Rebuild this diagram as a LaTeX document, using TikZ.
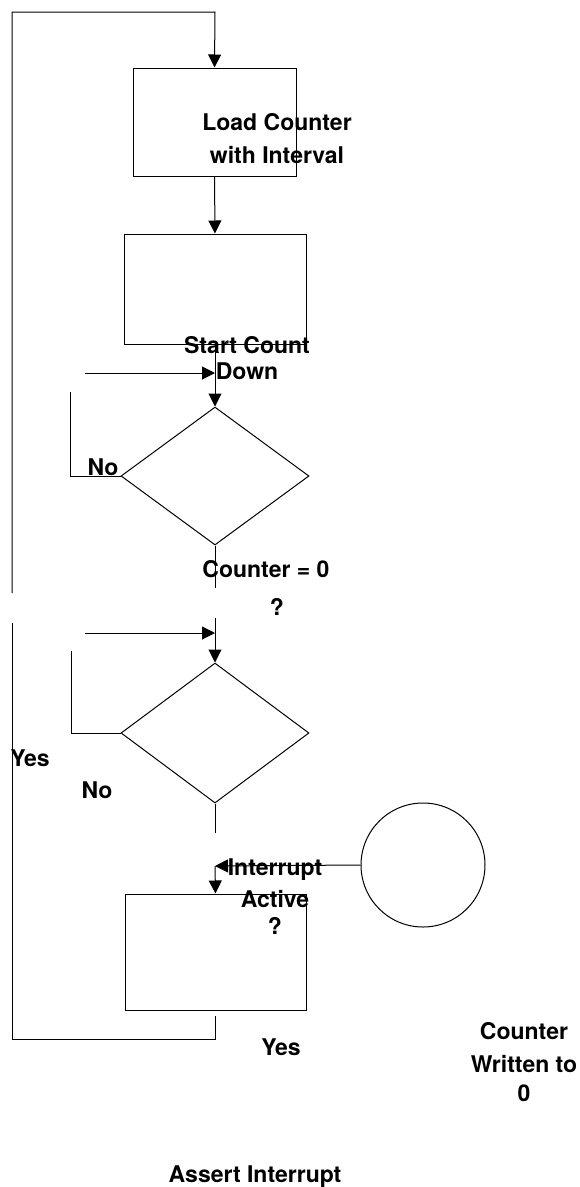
\documentclass[tikz,border=0pt]{standalone}
\usepackage{fontspec}
\setmainfont{TeX Gyre Heros}
\usetikzlibrary{shapes.geometric,arrows.meta}

\begin{document}
\begin{tikzpicture}[x=1pt,y=-1pt,line width=1pt,
        box/.style={draw, rectangle, inner sep=0pt},
        decision/.style={draw, diamond, inner sep=0pt},
        lbl/.style={font=\bfseries\fontsize{23}{33}\selectfont, align=center, inner sep=0pt, anchor=north},
        arr/.style={-{Triangle[length=13pt,width=13pt]}}]

        \useasboundingbox (0,0) rectangle (579,1187);

        % Define the blocks
        \node[box, minimum width=163, minimum height=108] (load) at (214.5,122) {};
        \node[box, minimum width=182, minimum height=110] (count) at (215,289) {};
        \node[decision, minimum width=188, minimum height=138] (zero) at (215,476) {};
        \node[decision, minimum width=188, minimum height=140] (active) at (215,733) {};
        \node[box, minimum width=181, minimum height=116] (assert) at (215.5,952) {};
        \node[draw, circle, minimum size=124, inner sep=0pt] (written) at (423,865) {};

        % Define free ends of the connectors
        \coordinate (topL) at (12,12);
        \coordinate (topR) at (215,12);
        \coordinate (gapT) at (12,593);
        \coordinate (gapB) at (12,623);
        \coordinate (botL) at (12,1039);
        \coordinate (fb) at (215,1016);
        \coordinate (zeroEnd) at (215,588);
        \coordinate (activeIn) at (215,618);
        \coordinate (activeEnd) at (215,833);
        \coordinate (irq) at (215,866);
        \coordinate (noA) at (70,392);
        \coordinate (noB) at (71,651);
        \foreach \y/\name in {373/inA, 633/inB}
        {
            \coordinate (\name) at (85,\y);
            \coordinate (\name tip) at (215,\y);
        }

        % Draw the main flow
        \draw[arr] (gapT) -- (topL) -- (topR) -- (load.north);
        \draw[arr] (load.south) -- (count.north);
        \draw[arr] (count.south) -- (zero.north);
        \draw (zero.south) -- (zeroEnd);
        \draw[arr] (activeIn) -- (active.north);
        \draw (active.south) -- (activeEnd);
        \draw[arr] (written.west) -- (irq);
        \draw[arr] (irq) -- (assert.north);
        \draw (fb) |- (botL) -- (gapB);

        % Draw the side branches
        \draw[arr] (inA) -- (inAtip);
        \draw[arr] (inB) -- (inBtip);
        \draw (noA) |- (zero.west);
        \draw (noB) |- (active.west);

        % Labels
        \node[lbl] (loadT) at (277,113) {Load Counter\\with Interval};
        \node[lbl] (countT) at (247,336) {Start Count\\[-7pt]Down};
        \node[lbl] (noT1) at (103,458) {No};
        \node[lbl] (zeroT) at (266,560) {Counter = 0\\[5pt]\hspace*{22pt}?};
        \node[lbl] (yesT1) at (30,749) {Yes};
        \node[lbl] (noT2) at (97,781) {No};
        \node[lbl] (activeT) at (275,858) {Interrupt\\[-1pt]Active\\[-6pt]?};
        \node[lbl] (yesT2) at (281,1038) {Yes};
        \node[lbl] (writtenT) at (524,1022) {Counter\\Written to\\[-4pt]0};
        \node[lbl] (assertT) at (255,1165) {Assert Interrupt};
    \end{tikzpicture}
\end{document}
